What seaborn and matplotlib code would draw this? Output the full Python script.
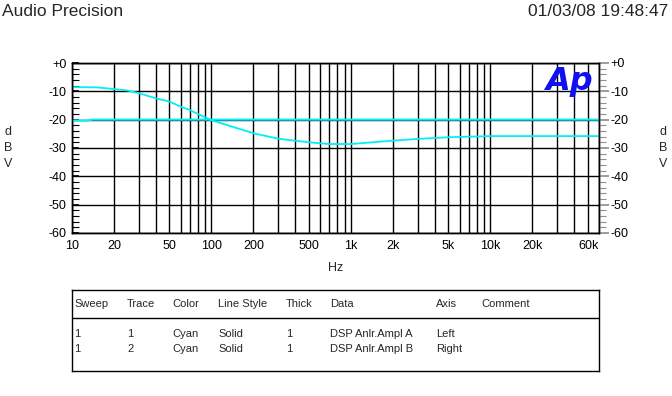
import numpy as np
import pandas as pd
import seaborn as sns
import matplotlib.pyplot as plt
from matplotlib.ticker import FixedLocator, LogLocator, MultipleLocator, NullFormatter

freq_a = [10, 15, 20, 25, 30, 40, 50, 60, 70, 80, 100, 150, 200, 300, 500, 700,
          1000, 2000, 3000, 5000, 10000, 20000, 60000]
level_a = [-8.5, -8.6, -9.2, -9.7, -10.6, -12.5, -13.6, -15.4, -16.6, -18.0, -20.2,
           -22.9, -24.8, -26.7, -28.0, -28.6, -28.6, -27.4, -26.8, -26.2, -25.8,
           -25.8, -25.8]
freq_b = [10, 13, 14, 60000]
level_b = [-20.3, -20.3, -20.0, -20.0]

x_ticks = [10, 20, 50, 100, 200, 500, 1000, 2000, 5000, 10000, 20000, 60000]
x_labels = ["10", "20", "50", "100", "200", "500", "1k", "2k", "5k", "10k", "20k", "60k"]
y_ticks = [0, -10, -20, -30, -40, -50, -60]
y_labels = ["+0", "-10", "-20", "-30", "-40", "-50", "-60"]

table_header = ["Sweep", "Trace", "Color", "Line Style", "Thick", "Data", "Axis", "Comment"]
table_rows = [
    ["1", "1", "Cyan", "Solid", "1", "DSP Anlr.Ampl A", "Left", ""],
    ["1", "2", "Cyan", "Solid", "1", "DSP Anlr.Ampl B", "Right", ""],
]

sns.set_theme(style="white")
plt.rcParams['font.family'] = ['Liberation Sans', 'DejaVu Sans']

W, H = 672, 396
fig = plt.figure(figsize=(W / 100, H / 100), dpi=100)

def fx(px):
    return px / W

def fy(py):
    return 1 - py / H

ax = fig.add_axes([fx(72), fy(233), fx(599) - fx(72), fy(63) - fy(233)])

df_a = pd.DataFrame({"freq": freq_a, "level": level_a})
df_b = pd.DataFrame({"freq": freq_b, "level": level_b})

cyan = "#00f0f8"
sns.lineplot(data=df_a, x="freq", y="level", ax=ax, color=cyan, linewidth=1.3)
ax.set_xscale("log")

ax2 = ax.twinx()
sns.lineplot(data=df_b, x="freq", y="level", ax=ax2, color=cyan, linewidth=1.5)
ax2.set_xscale("log")

# x axis set up after the twin, so the log scale does not reset the ticks
ax.set_xlim(10, 60000)
ax.xaxis.set_major_locator(FixedLocator(x_ticks))
ax.set_xticklabels(x_labels, fontsize=9)
ax.xaxis.set_minor_locator(LogLocator(base=10, subs=range(1, 10), numticks=20))
ax.xaxis.set_minor_formatter(NullFormatter())
ax.get_xticklabels()[-1].set_ha("right")
ax.tick_params(axis="x", which="both", length=0, pad=5, colors="black")
ax2.tick_params(axis="x", which="both", length=0)

ax.set_ylim(-60, 0)
ax.set_yticks(y_ticks)
ax.set_yticklabels(y_labels, fontsize=9)
ax.yaxis.set_minor_locator(MultipleLocator(2))
ax.tick_params(axis="y", which="major", direction="in", length=5, pad=4, color="black", labelcolor="black")
ax.tick_params(axis="y", which="minor", direction="in", length=5, color="black", width=0.8)
ax.tick_params(left=True, which="both")

ax.grid(True, axis="x", which="both", color="black", linewidth=1)
ax.grid(True, axis="y", which="major", color="black", linewidth=1)
ax.set_xlabel("")
ax.set_ylabel("")

ax2.set_ylim(-60, 0)
ax2.set_yticks(y_ticks)
ax2.set_yticklabels(y_labels, fontsize=9)
ax2.yaxis.set_minor_locator(MultipleLocator(2))
ax2.tick_params(axis="y", which="major", direction="out", length=7, pad=1, color="#909090", labelcolor="black")
ax2.tick_params(axis="y", which="minor", direction="out", length=5, color="#909090", width=0.8)
ax2.tick_params(right=True, which="both")
ax2.set_ylabel("")
ax2.set_xlabel("")
for a in (ax, ax2):
    for s in a.spines.values():
        s.set_color("black")
        s.set_linewidth(1)

# Ap logo
ax.text(0.988, 0.985, "Ap", transform=ax.transAxes, ha="right", va="top",
        fontsize=23, fontweight="heavy", fontstyle="italic", color="#1010f0",
        family=["DejaVu Sans"])

# header texts and axis labels
fig.text(fx(2), fy(12), "Audio Precision", fontsize=12.5, va="center", ha="left")
fig.text(fx(668), fy(12), "01/03/08 19:48:47", fontsize=12.5, va="center", ha="right")
fig.text(fx(336), fy(268), "Hz", fontsize=9, ha="center", va="center")
for xp in (8, 663):
    for i, ch in enumerate("dBV"):
        fig.text(fx(xp), fy(132 + 16 * i), ch, fontsize=9, ha="center", va="center")

# trace table
tab = fig.add_axes([fx(72), fy(371), fx(599) - fx(72), fy(290) - fy(371)])
tab.set_xlim(72, 599)
tab.set_ylim(371, 290)
tab.set_xticks([])
tab.set_yticks([])
for s in tab.spines.values():
    s.set_color("black")
    s.set_linewidth(1)
tab.plot([72, 599], [318, 318], color="black", linewidth=1)
col_x = [74, 127, 172, 218, 286, 330, 436, 481]
for cx, txt in zip(col_x, table_header):
    tab.text(cx, 304, txt, fontsize=8, va="center", ha="left")
for r, row in enumerate(table_rows):
    for cx, txt in zip(col_x, row):
        tab.text(cx, 334 + 15 * r, txt, fontsize=8, va="center", ha="left")

fig.savefig("out.png", dpi=100, facecolor="white")
